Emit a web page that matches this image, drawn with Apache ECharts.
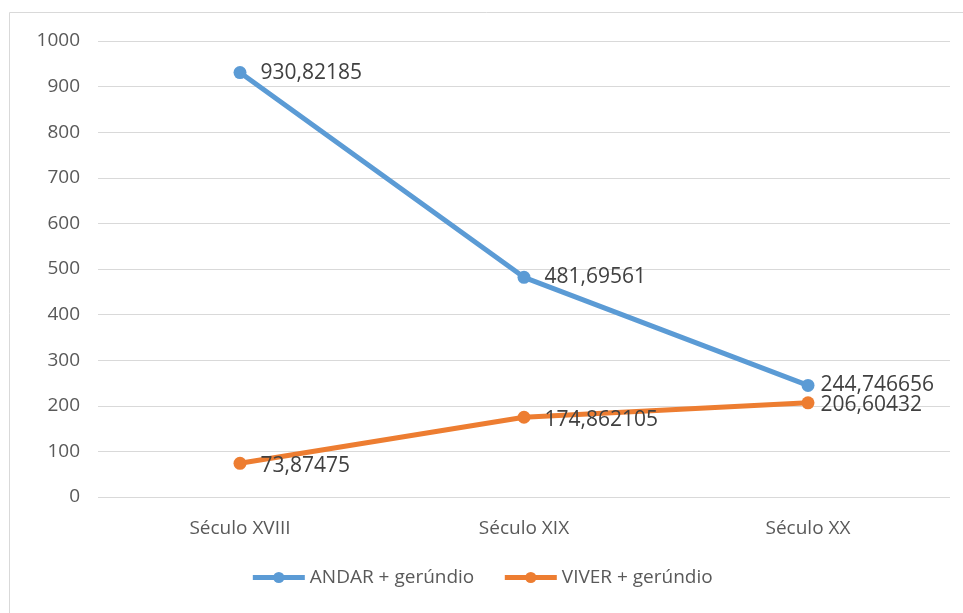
<!DOCTYPE html>
<html><head><meta charset="utf-8">
<script src="https://cdn.jsdelivr.net/npm/echarts@6/dist/echarts.min.js"></script>
<style>html,body{margin:0;padding:0;background:#fff}#c{width:963px;height:613px}</style>
</head><body><div id="c"></div>
<script>
const categories = ['Século XVIII', 'Século XIX', 'Século XX'];
const andar = [930.82185, 481.69561, 244.746656];
const viver = [73.87475, 174.862105, 206.60432];
const andarLabels = ['930,82185', '481,69561', '244,746656'];
const viverLabels = ['73,87475', '174,862105', '206,60432'];
const seriesNames = ['ANDAR + gerúndio', 'VIVER + gerúndio'];

const FONT = '"Open Sans", sans-serif';
const chart = echarts.init(document.getElementById('c'));
chart.setOption({
  animation: false,
  textStyle: { fontFamily: FONT },
  graphic: [{ type: 'rect', shape: { x: 9.5, y: 12.5, width: 970, height: 620 }, style: { fill: 'none', stroke: '#d9d9d9', lineWidth: 1 } }],
  grid: { left: 98, right: 13, top: 41, bottom: 116 },
  legend: {
    bottom: 21, left: 'center', itemWidth: 52, itemHeight: 14, itemGap: 28,
    textStyle: { fontSize: 19, color: '#595959', fontFamily: FONT },
    lineStyle: { width: 5 },
    data: seriesNames
  },
  xAxis: {
    type: 'category', data: categories, boundaryGap: true,
    axisLine: { show: false }, axisTick: { show: false },
    axisLabel: { fontSize: 19, color: '#595959', margin: 22, fontFamily: FONT }
  },
  yAxis: {
    type: 'value', min: 0, max: 1000, interval: 100,
    axisLine: { show: false }, axisTick: { show: false },
    axisLabel: { fontSize: 19, color: '#595959', margin: 18, fontFamily: FONT, formatter: v => String(v) },
    splitLine: { lineStyle: { color: '#d9d9d9', width: 1 } }
  },
  series: [
    {
      name: seriesNames[0], type: 'line', data: andar,
      symbol: 'circle', symbolSize: 13,
      lineStyle: { width: 5, color: '#5b9bd5' }, itemStyle: { color: '#5b9bd5' },
      label: { show: true, position: 'right', distance: 14, fontSize: 21, color: '#404040', fontFamily: FONT,
        formatter: p => andarLabels[p.dataIndex] },
      labelLayout: p => ({ dx: p.dataIndex === 2 ? -8 : 0 })
    },
    {
      name: seriesNames[1], type: 'line', data: viver,
      symbol: 'circle', symbolSize: 13,
      lineStyle: { width: 5, color: '#ed7d31' }, itemStyle: { color: '#ed7d31' },
      label: { show: true, position: 'right', distance: 14, fontSize: 21, color: '#404040', fontFamily: FONT,
        formatter: p => viverLabels[p.dataIndex] },
      labelLayout: p => ({ dx: p.dataIndex === 2 ? -8 : 0, dy: p.dataIndex === 2 ? 2 : 3 })
    }
  ]
});
</script></body></html>
